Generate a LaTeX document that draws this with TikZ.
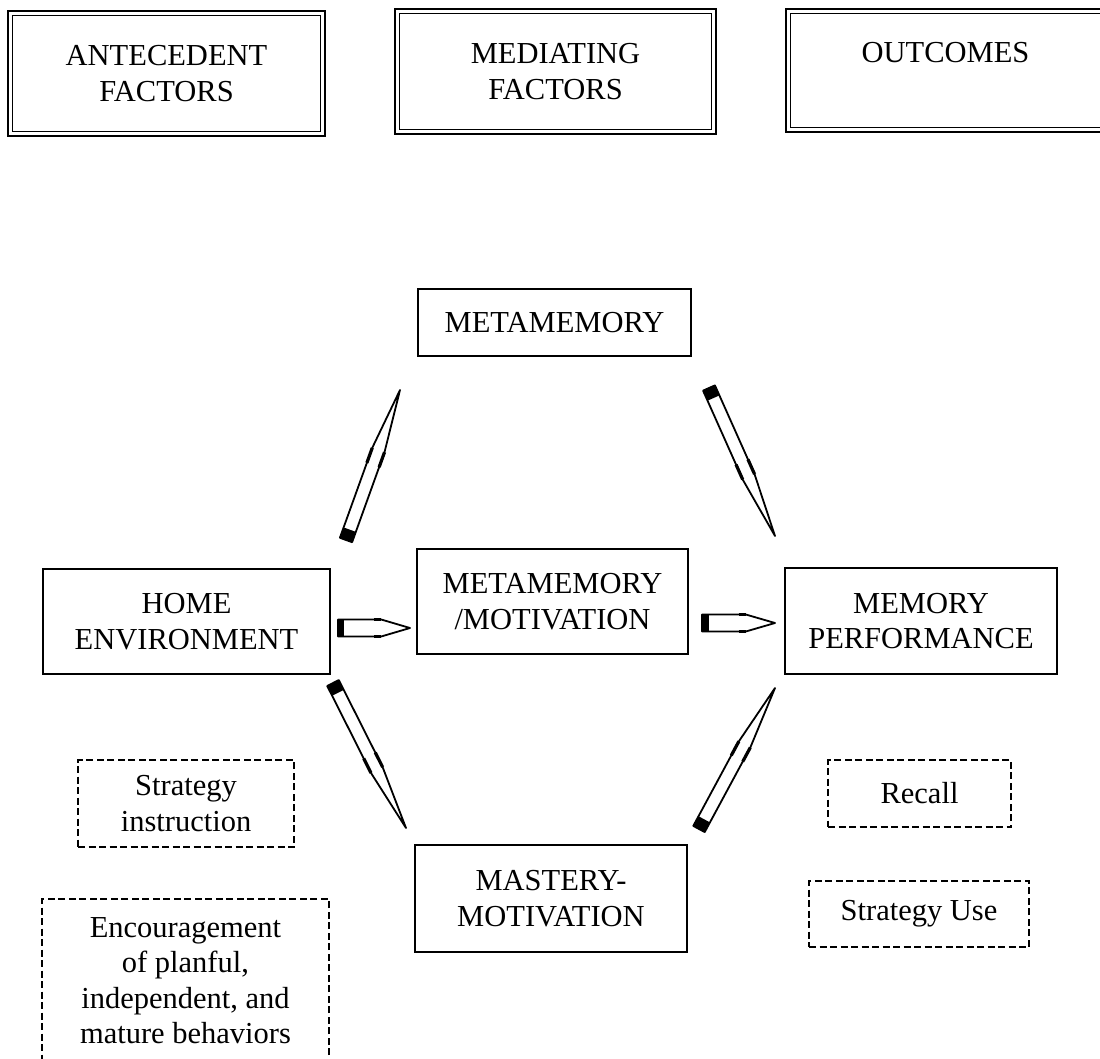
\documentclass[tikz,border=0pt]{standalone}
\usepackage{fontspec}
\setmainfont{Liberation Serif}
\usetikzlibrary{calc}

\tikzset{
  txt/.style={font=\fontsize{30.5}{35.5}\selectfont, align=center, inner sep=0pt},
  headbox/.style={txt, draw, line width=2.8pt},
  box/.style={txt, draw, line width=2.6pt},
  dashbox/.style={txt, draw, line width=2.2pt, dash pattern=on 7pt off 3.5pt},
  pencilline/.style={line width=1.8pt, fill=white, line join=round},
}

% pencil shaped arrow: base, tip, half width, length of the dark end
\newcommand{\pencil}[4]{%
  \filldraw[pencilline] ($(#1)!#3!90:(#2)$) -- ($(#1)!.6!(#2)!#3!90:(#2)$) -- (#2)
    -- ($(#1)!.6!(#2)!#3!-90:(#2)$) -- ($(#1)!#3!-90:(#2)$) -- cycle;
  \fill ($(#1)!#3!90:(#2)$) -- ($(#1)!#4!(#2)!#3!90:(#2)$)
    -- ($(#1)!#4!(#2)!#3!-90:(#2)$) -- ($(#1)!#3!-90:(#2)$) -- cycle;
  \draw[line width=3.2pt] ($(#1)!.5!(#2)!#3!90:(#2)$) -- ($(#1)!.6!(#2)!#3!90:(#2)$);
  \draw[line width=3.2pt] ($(#1)!.5!(#2)!#3!-90:(#2)$) -- ($(#1)!.6!(#2)!#3!-90:(#2)$);
}

\begin{document}
\begin{tikzpicture}[x=1pt, y=-1pt]
    \useasboundingbox (0,0) rectangle (1100,1059);

    % -----------------------------------------------------
    % 1) Column headings (double frame)
    % -----------------------------------------------------
    \node[headbox, minimum width=317, minimum height=125] (ante) at (166.5,73.5) {ANTECEDENT\\FACTORS};
    \node[headbox, minimum width=321, minimum height=125] (medi) at (555.5,71.5) {MEDIATING\\FACTORS};
    \node[headbox, minimum width=319, minimum height=123] (outc) at (945.5,70.5) {OUTCOMES\\\mbox{}};
    \foreach \n in {ante,medi,outc}
        \draw[line width=1.5pt] ([shift={(6,6)}]\n.north west) rectangle ([shift={(-6,-6)}]\n.south east);

    % -----------------------------------------------------
    % 2) Main boxes
    % -----------------------------------------------------
    \node[box, minimum width=273, minimum height=67] (meta) at (554.5,322.5) {METAMEMORY};
    \node[box, minimum width=287, minimum height=105] (home) at (186.5,621.5) {HOME\\ENVIRONMENT};
    \node[box, minimum width=271, minimum height=105] (mmmo) at (552.5,601.5) {METAMEMORY\\/MOTIVATION};
    \node[box, minimum width=272, minimum height=106] (memp) at (921,621) {MEMORY\\PERFORMANCE};
    \node[box, minimum width=272, minimum height=107] (mast) at (551,898.5) {MASTERY-\\MOTIVATION};

    % -----------------------------------------------------
    % 3) Dashed boxes
    % -----------------------------------------------------
    \node[dashbox, minimum width=216, minimum height=87] (stin) at (186,803.5) {Strategy\\instruction};
    \node[dashbox, minimum width=287, minimum height=163] (enco) at (185.5,980.5)
        {Encouragement\\of planful,\\independent, and\\mature behaviors};
    \node[dashbox, minimum width=183, minimum height=67] (reca) at (919.5,793.5) {Recall};
    \node[dashbox, minimum width=220, minimum height=66] (stus) at (919,914) {Strategy Use};

    % -----------------------------------------------------
    % 4) Arrow ends
    % -----------------------------------------------------
    \coordinate (hm1) at (346,540);  \coordinate (hm2) at (400,390);
    \coordinate (mp1) at (709,388);  \coordinate (mp2) at (775,536);
    \coordinate (hs1) at (333,683);  \coordinate (hs2) at (406,828);
    \coordinate (sp1) at (699,829);  \coordinate (sp2) at (775,688);
    \coordinate (hx1) at (338,628);  \coordinate (hx2) at (410,628);
    \coordinate (xp1) at (702,623);  \coordinate (xp2) at (775,623);

    % -----------------------------------------------------
    % 5) Pencil arrows
    % -----------------------------------------------------
    \pencil{hm1}{hm2}{6.5pt}{11pt}
    \pencil{mp1}{mp2}{6.5pt}{11pt}
    \pencil{hs1}{hs2}{6.5pt}{11pt}
    \pencil{sp1}{sp2}{6.5pt}{11pt}
    \pencil{hx1}{hx2}{8.5pt}{6pt}
    \pencil{xp1}{xp2}{8.5pt}{7pt}

\end{tikzpicture}
\end{document}
